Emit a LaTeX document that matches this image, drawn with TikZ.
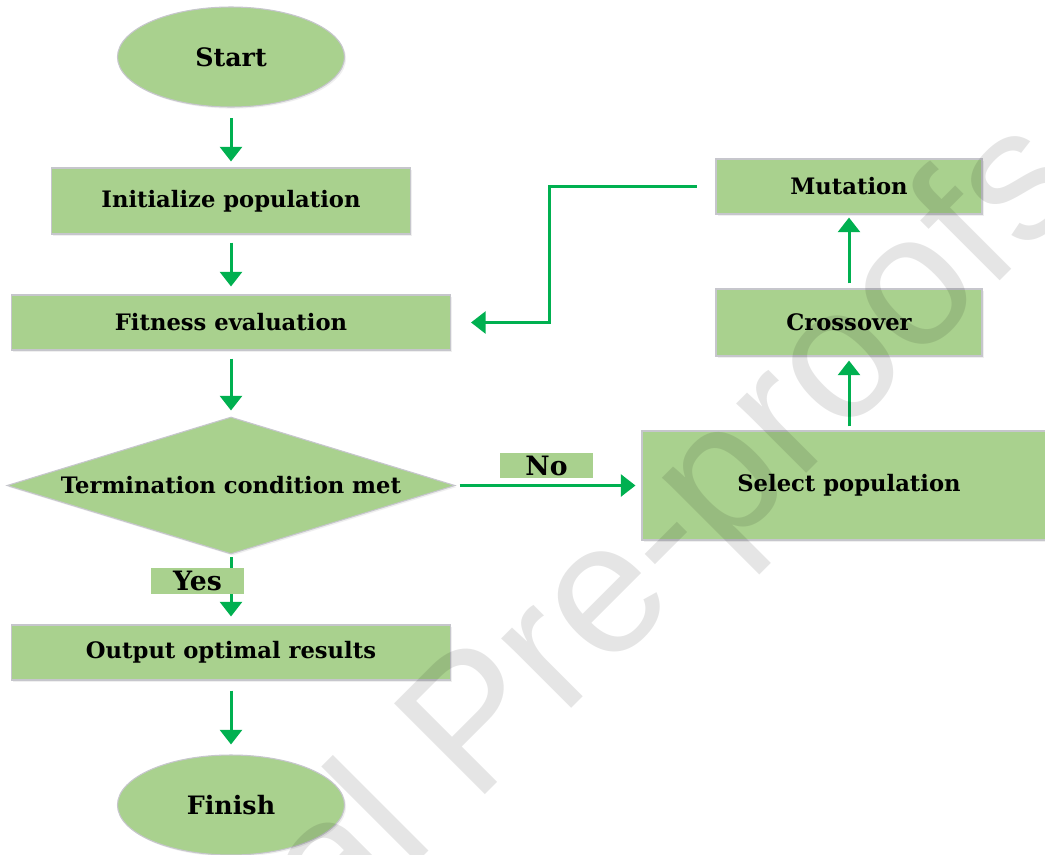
\documentclass[tikz,border=0pt]{standalone}
\usepackage{fontspec}
\setmainfont{DejaVu Serif}
\newfontfamily\wmfont{Liberation Sans}
\usetikzlibrary{shapes.geometric,arrows.meta,shadows}
\definecolor{boxgreen}{HTML}{A9D18E}
\definecolor{linegreen}{HTML}{00B050}
\definecolor{edgegray}{HTML}{C6C6CC}
\tikzset{
  stepbox/.style={rectangle,fill=boxgreen,draw=edgegray,line width=0.8pt,inner sep=0pt,
    drop shadow={opacity=0.12,shadow xshift=1.2pt,shadow yshift=-1.2pt},
    font=\bfseries\fontsize{17}{19}\selectfont},
  terminal/.style={stepbox,ellipse,font=\bfseries\fontsize{19}{21}\selectfont},
  decision/.style={stepbox,diamond,aspect=3.27},
  tag/.style={rectangle,fill=boxgreen,inner sep=0pt,font=\bfseries\fontsize{20}{22}\selectfont},
  flow/.style={draw=linegreen,line width=2.25pt,-{Triangle[width=16.5pt,length=11pt]}}
}
\begin{document}
\begin{tikzpicture}[x=0.75pt,y=-0.75pt]
\clip (0,0) rectangle (1045,854);
\fill[white] (0,0) rectangle (1045,854);
\node (start) at (231,57) [terminal,minimum width=170.25pt,minimum height=75pt] {Start};
\node (init) at (231,201) [stepbox,minimum width=269.25pt,minimum height=49.5pt] {Initialize population};
\node (fitness) at (231,322.5) [stepbox,minimum width=329.25pt,minimum height=41.25pt] {Fitness evaluation};
\node (term) at (231,485.5) [decision,minimum width=336pt,minimum height=102.75pt] {Termination condition met};
\node (output) at (231,652.5) [stepbox,minimum width=329.25pt,minimum height=41.25pt] {Output optimal results};
\node (finish) at (231,805) [terminal,minimum width=170.25pt,minimum height=75pt] {Finish};
\node (select) at (849,485.5) [stepbox,minimum width=310.5pt,minimum height=81.75pt] {Select population};
\node (cross) at (849,322.5) [stepbox,minimum width=199.5pt,minimum height=50.25pt] {Crossover};
\node (mutation) at (849,186.5) [stepbox,minimum width=199.5pt,minimum height=41.25pt] {Mutation};
\coordinate (bend) at (549,322.5);
\draw[flow,shorten <=8pt,shorten >=4.5pt] (start) -- (init);
\draw[flow,shorten <=6pt,shorten >=6pt] (init) -- (fitness);
\draw[flow,shorten <=6pt,shorten >=4.5pt] (fitness) -- (term);
\draw[flow,shorten <=2pt,shorten >=6pt] (term) -- (output);
\draw[flow,shorten <=7.5pt,shorten >=7.5pt] (output) -- (finish);
\draw[flow,shorten <=3pt,shorten >=4.5pt] (term) -- (select);
\draw[flow,shorten <=3pt,shorten >=3pt] (select) -- (cross);
\draw[flow,shorten <=3.75pt,shorten >=2.25pt] (cross) -- (mutation);
\draw[flow,shorten <=14pt,shorten >=15pt] (mutation.west) -| (bend) -- (fitness.east);
\node (yes) at (197.5,581) [tag,minimum width=69.75pt,minimum height=19.5pt] {Yes};
\node (no) at (546.5,465.5) [tag,minimum width=69.75pt,minimum height=18.75pt] {No};
\node (mark) at (5,1275) [rotate=45,anchor=base west,inner sep=0pt,text=black,text opacity=0.1,
  font=\wmfont\fontsize{140}{140}\selectfont] {Journal Pre-proofs};
\end{tikzpicture}
\end{document}
